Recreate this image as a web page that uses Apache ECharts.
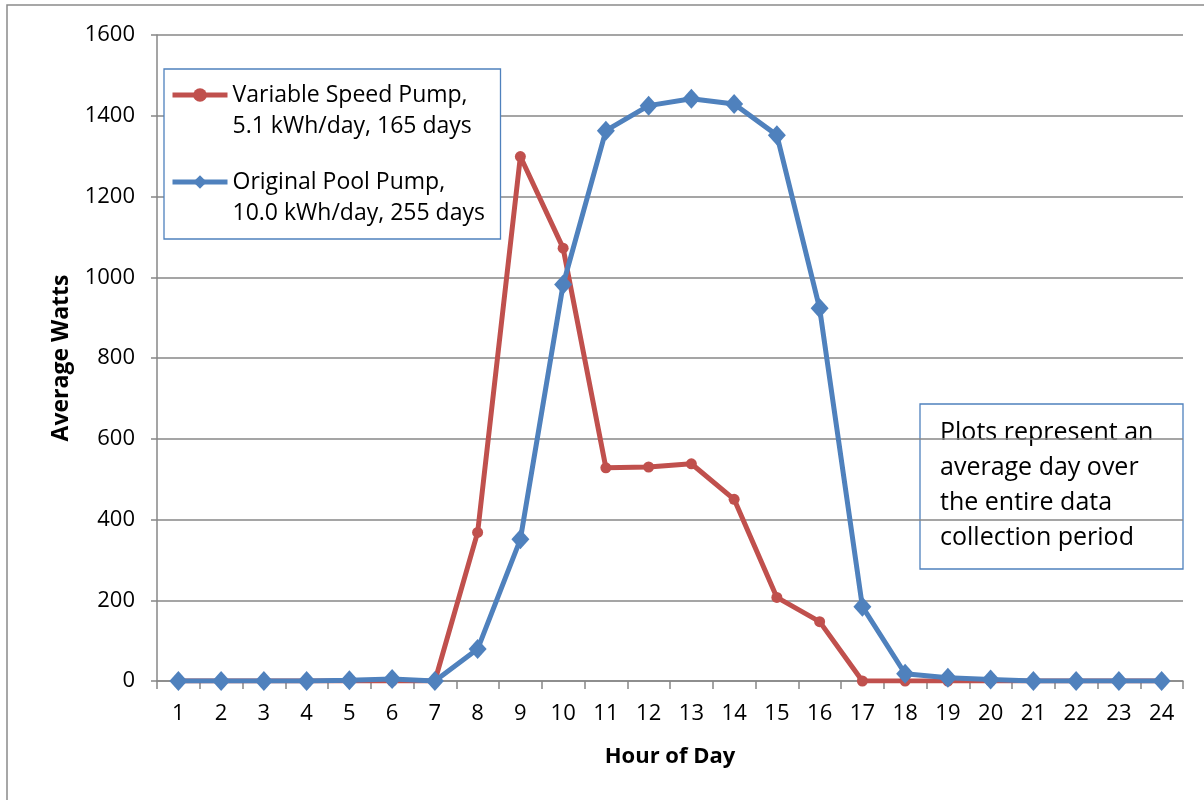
<!DOCTYPE html>
<html>
<head>
<meta charset="utf-8">
<script src="https://cdn.jsdelivr.net/npm/echarts@6/dist/echarts.min.js"></script>
<style>
  html, body { margin: 0; padding: 0; background: #fff; }
  #main { width: 1204px; height: 800px; }
</style>
</head>
<body>
<div id="main"></div>
<script>
// hours on the x axis
const hours = ['1', '2', '3', '4', '5', '6', '7', '8', '9', '10', '11', '12',
  '13', '14', '15', '16', '17', '18', '19', '20', '21', '22', '23', '24']

// average watts
const variableSpeed = [0, 0, 0, 0, 0, 0, 0, 368, 1299, 1072, 528, 530,
  538, 450, 207, 147, 0, 0, 0, 0, 0, 0, 0, 0]
const originalPump = [0, 0, 0, 0, 2, 5, 0, 79, 351, 982, 1363, 1425,
  1442, 1429, 1352, 923, 184, 18, 8, 4, 0, 0, 0, 0]

const seriesNames = ['Variable Speed Pump,\n5.1 kWh/day, 165 days',
  'Original Pool Pump,\n10.0 kWh/day, 255 days']
const noteText = 'Plots represent an\naverage day over\nthe entire data\ncollection period'

const font = "'Open Sans', 'Noto Sans', sans-serif"
const gridColor = '#878787'

const chart = echarts.init(document.getElementById('main'))

chart.setOption({
  animation: false,
  textStyle: { fontFamily: font },
  grid: { left: 157, right: 21, top: 35, bottom: 119 },
  legend: {
    orient: 'vertical',
    left: 164,
    top: 69,
    // negative top padding: the blank first text line sits above the box
    padding: [-20.5, 6, 10.5, 6],
    itemGap: -6,
    itemWidth: 55,
    itemHeight: 17,
    backgroundColor: '#fff',
    borderColor: '#4f81bd',
    borderWidth: 1.3,
    selectedMode: false,
    lineStyle: { width: 5 },
    // blank first line so the icon lines up with the first text line
    formatter: name => '\u00a0\n' + name,
    textStyle: {
      fontFamily: font,
      fontSize: 23,
      color: '#000',
      lineHeight: 31,
      width: 262
    },
    data: seriesNames
  },
  xAxis: {
    type: 'category',
    data: hours,
    boundaryGap: true,
    name: 'Hour of Day',
    nameLocation: 'middle',
    nameGap: 65,
    nameTextStyle: { fontFamily: font, fontSize: 22, fontWeight: 'bold', color: '#000' },
    axisLine: { lineStyle: { color: gridColor, width: 1.5 } },
    axisTick: { show: true, length: 8, lineStyle: { color: gridColor, width: 1.5 } },
    axisLabel: { fontSize: 22, color: '#000', margin: 22, interval: 0 }
  },
  yAxis: {
    type: 'value',
    min: 0,
    max: 1600,
    interval: 200,
    name: 'Average Watts',
    nameLocation: 'middle',
    nameGap: 84,
    nameTextStyle: { fontFamily: font, fontSize: 23, fontWeight: 'bold', color: '#000' },
    axisLine: { show: true, lineStyle: { color: gridColor, width: 1.5 } },
    axisTick: { show: true, length: 6, lineStyle: { color: gridColor, width: 1.5 } },
    axisLabel: { fontSize: 22, color: '#000', margin: 22, formatter: v => String(v) },
    splitLine: { lineStyle: { color: gridColor, width: 1.5 } }
  },
  series: [
    {
      name: seriesNames[0],
      type: 'line',
      data: variableSpeed,
      symbol: 'circle',
      symbolSize: 11,
      showAllSymbol: true,
      color: '#c0504d',
      lineStyle: { width: 5, color: '#c0504d' },
      itemStyle: { color: '#c0504d' }
    },
    {
      name: seriesNames[1],
      type: 'line',
      data: originalPump,
      symbol: 'diamond',
      symbolSize: [18, 20],
      showAllSymbol: true,
      color: '#4f81bd',
      lineStyle: { width: 5, color: '#4f81bd' },
      itemStyle: { color: '#4f81bd' }
    }
  ],
  graphic: [
    {
      // outer chart frame
      type: 'rect',
      z: -10,
      silent: true,
      shape: { x: 7, y: 5, width: 1220, height: 820 },
      style: { fill: 'none', stroke: '#8a8a8a', lineWidth: 1.5 }
    },
    {
      type: 'group',
      z: 100,
      children: [
        {
          type: 'rect',
          shape: { x: 920, y: 404, width: 263, height: 165 },
          style: { fill: '#fff', stroke: '#4f81bd', lineWidth: 1.3 }
        },
        {
          type: 'text',
          x: 940,
          y: 415,
          style: {
            text: noteText,
            fontFamily: font,
            fontSize: 25,
            lineHeight: 35,
            fill: '#000'
          }
        }
      ]
    }
  ]
})
</script>
</body>
</html>
